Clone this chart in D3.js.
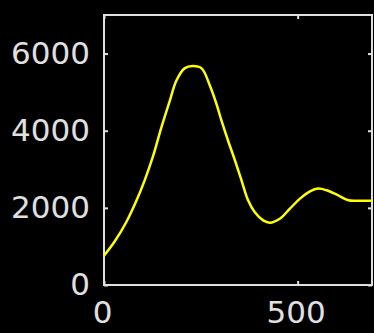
<!DOCTYPE html>
<html>
<head>
<meta charset="utf-8">
<script src="https://cdn.jsdelivr.net/npm/d3@7"></script>
<style>
  body { margin: 0; background: #000; }
  svg { display: block; }
</style>
</head>
<body>
<div id="chart"></div>
<script>
// Values
const xValues = [0, 27, 57, 83, 105, 126, 148, 170, 187, 208, 229, 252, 273, 290, 303, 320, 338, 355, 372, 389, 411, 428, 454, 480, 506, 532, 553, 575, 601, 631, 660, 692];
const yValues = [760, 1120, 1620, 2170, 2714, 3319, 4080, 4780, 5300, 5616, 5675, 5616, 5180, 4706, 4273, 3753, 3234, 2714, 2195, 1891, 1675, 1616, 1719, 1979, 2239, 2429, 2499, 2455, 2343, 2195, 2185, 2182];
const xTicks = [0, 500];
const yTicks = [0, 2000, 4000, 6000];

const data = xValues.map((x, i) => ({ x: x, y: yValues[i] }));

const width = 374, height = 333;
const margin = { left: 104, right: 372, top: 15, bottom: 285 };
const axisColor = "#e0e0e0";

const svg = d3.select("#chart")
  .append("svg")
  .attr("width", width)
  .attr("height", height)
  .style("background", "#000");

const x = d3.scaleLinear()
  .domain([0, 692])
  .range([margin.left, margin.right]);

const y = d3.scaleLinear()
  .domain([0, 7000])
  .range([margin.bottom, margin.top]);

function styleAxis(g) {
  g.select(".domain").remove();
  g.selectAll("line").attr("stroke", axisColor).attr("stroke-width", 2);
  g.selectAll("text")
    .attr("fill", axisColor)
    .style("font-family", "'DejaVu Sans', sans-serif")
    .style("font-size", "31px");
}

// Bottom axis with labels
svg.append("g")
  .attr("transform", `translate(0,${margin.bottom})`)
  .call(d3.axisBottom(x).tickValues(xTicks).tickSize(-4).tickPadding(16).tickFormat(d3.format("d")))
  .call(styleAxis)
  .selectAll("text").attr("dx", -2);

// Left axis with labels
svg.append("g")
  .attr("transform", `translate(${margin.left},0)`)
  .call(d3.axisLeft(y).tickValues(yTicks).tickSize(-4).tickPadding(14).tickFormat(d3.format("d")))
  .call(styleAxis);

// Top and right axes, ticks only
svg.append("g")
  .attr("transform", `translate(0,${margin.top})`)
  .call(d3.axisTop(x).tickValues(xTicks).tickSize(-4).tickFormat(""))
  .call(styleAxis);

svg.append("g")
  .attr("transform", `translate(${margin.right},0)`)
  .call(d3.axisRight(y).tickValues(yTicks).tickSize(-4).tickFormat(""))
  .call(styleAxis);

// Box
svg.append("rect")
  .attr("x", margin.left)
  .attr("y", margin.top)
  .attr("width", margin.right - margin.left)
  .attr("height", margin.bottom - margin.top)
  .attr("fill", "none")
  .attr("stroke", axisColor)
  .attr("stroke-width", 2);

// Line
const line = d3.line()
  .x(d => x(d.x))
  .y(d => y(d.y))
  .curve(d3.curveCatmullRom);

svg.append("path")
  .datum(data)
  .attr("fill", "none")
  .attr("stroke", "#ffff00")
  .attr("stroke-width", 2.5)
  .attr("d", line);
</script>
</body>
</html>
